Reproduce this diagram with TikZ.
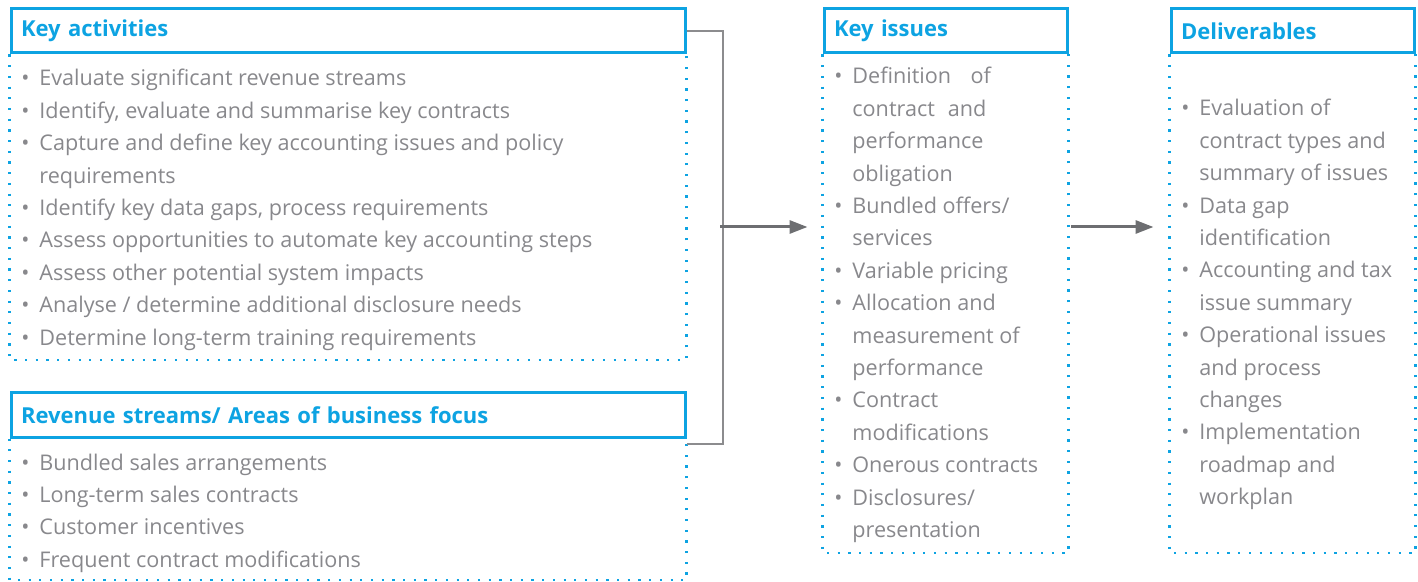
\documentclass[tikz,border=0pt]{standalone}
\usepackage{fontspec}
\setmainfont{Open Sans}
\usetikzlibrary{arrows.meta}

\definecolor{boxblue}{HTML}{0DA3E2}
\definecolor{txtgray}{HTML}{88888C}
\definecolor{arrowgray}{HTML}{6D6E71}
\definecolor{linegray}{HTML}{8C8C8E}

% bullet list: bullet column + text column
\newcommand{\bu}{\textbullet}
\newenvironment{bulletlist}{\begin{tabular}[t]{@{}p{9pt}@{}l@{}}}{\end{tabular}}

\begin{document}
\begin{tikzpicture}[x=0.5pt, y=-0.5pt,
    headbox/.style={draw=boxblue, line width=1.5pt, anchor=north west,
        inner xsep=5pt, inner ysep=0pt, minimum height=22pt,
        text=boxblue, font=\bfseries\fontsize{11}{13}\selectfont, align=left},
    itemlist/.style={anchor=base west, inner sep=0pt, text=txtgray,
        font=\fontsize{10.8}{16.2}\selectfont},
    dotline/.style={draw=boxblue, line width=1.2pt, dash pattern=on 1.1pt off 4.25pt},
    bracket/.style={draw=linegray, line width=1pt},
    flow/.style={draw=arrowgray, line width=1.5pt, -{Triangle[length=9pt,width=6.5pt]}}]

    \useasboundingbox (0,0) rectangle (1418,582);

    % headers
    \node[headbox, text width=327pt] (acthead) at (9.5,7.5) {Key activities};
    \node[headbox, text width=327pt] (revhead) at (9.5,391.5) {Revenue streams/ Areas of business focus};
    \node[headbox, text width=111.5pt] (isshead) at (822.5,7.5) {Key issues};
    \node[headbox, text width=111.5pt] (delhead) at (1169.5,7.5) {Deliverables};

    % dotted bodies below the headers
    \draw[dotline] (acthead.south west) -- ++(0,305.5) -| (acthead.south east);
    \draw[dotline] (revhead.south west) -- ++(0,141.5) -| (revhead.south east);
    \draw[dotline] (isshead.south west) -- ++(0,498.5) -| (isshead.south east);
    \draw[dotline] (delhead.south west) -- ++(0,498.5) -| (delhead.south east);

    % lists
    \node[itemlist] (actlist) at (21,86) {\begin{bulletlist}
        \bu & Evaluate significant revenue streams\\
        \bu & Identify, evaluate and summarise key contracts\\
        \bu & Capture and define key accounting issues and policy\\
            & requirements\\
        \bu & Identify key data gaps, process requirements\\
        \bu & Assess opportunities to automate key accounting steps\\
        \bu & Assess other potential system impacts\\
        \bu & Analyse / determine additional disclosure needs\\
        \bu & Determine long-term training requirements
    \end{bulletlist}};

    \node[itemlist] (revlist) at (21,470) {\begin{bulletlist}
        \bu & Bundled sales arrangements\\
        \bu & Long-term sales contracts\\
        \bu & Customer incentives\\
        \bu & Frequent contract modifications
    \end{bulletlist}};

    \node[itemlist] (isslist) at (834,84) {\begin{bulletlist}
        \bu & Definition\hspace{0.9em}of\\
            & contract\hspace{0.6em}and\\
            & performance\\
            & obligation\\
        \bu & Bundled offers/\\
            & services\\
        \bu & Variable pricing\\
        \bu & Allocation and\\
            & measurement of\\
            & performance\\
        \bu & Contract\\
            & modifications\\
        \bu & Onerous contracts\\
        \bu & Disclosures/\\
            & presentation
    \end{bulletlist}};

    \node[itemlist] (dellist) at (1181,116) {\begin{bulletlist}
        \bu & Evaluation of\\
            & contract types and\\
            & summary of issues\\
        \bu & Data gap\\
            & identification\\
        \bu & Accounting and tax\\
            & issue summary\\
        \bu & Operational issues\\
            & and process\\
            & changes\\
        \bu & Implementation\\
            & roadmap and\\
            & workplan
    \end{bulletlist}};

    % connectors
    \draw[bracket] (acthead.east) -- ++(36,0) coordinate (brtop)
        |- ([yshift=-2.5pt]revhead.south east);
    \coordinate (mid) at (720,227);
    \draw[flow, shorten >=7.5pt] (mid) -- (mid -| isshead.west);
    \draw[flow, shorten <=1pt, shorten >=8pt] (mid -| isshead.east) -- (mid -| delhead.west);
\end{tikzpicture}
\end{document}
